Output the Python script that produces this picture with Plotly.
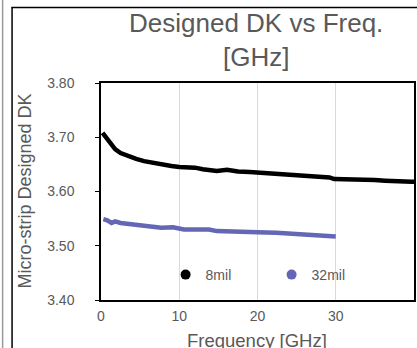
import plotly.graph_objects as go

# ---- data ----
freq_8mil = [0.2, 0.7, 1.2, 1.8, 2.5, 3.5, 4.5, 5.5, 6.5, 7.7, 9.0, 10.0, 11.0, 12.0,
             13.0, 14.0, 14.8, 16.1, 17.5, 19.0, 20.0, 21.5, 23.0, 24.5, 25.8, 27.5,
             29.2, 29.8, 31.5, 33.4, 35.0, 36.3, 38.0, 39.7, 41.0]
dk_8mil = [3.708, 3.698, 3.688, 3.678, 3.671, 3.665, 3.660, 3.656, 3.653, 3.650, 3.647,
           3.645, 3.645, 3.644, 3.641, 3.640, 3.638, 3.640, 3.637, 3.636, 3.635, 3.633,
           3.631, 3.631, 3.630, 3.628, 3.626, 3.623, 3.623, 3.623, 3.621, 3.620, 3.620,
           3.618, 3.617]

freq_32mil = [0.3, 0.8, 1.35, 1.8, 2.5, 3.5, 4.5, 5.6, 6.5, 7.7, 9.2, 10.6, 12.0, 13.8,
              14.8, 16.5, 18.2, 20.0, 22.4, 24.5, 26.7, 28.5, 30.0]
dk_32mil = [3.549, 3.547, 3.542, 3.545, 3.542, 3.540, 3.538, 3.537, 3.535, 3.533, 3.534,
            3.530, 3.530, 3.530, 3.527, 3.527, 3.527, 3.525, 3.524, 3.522, 3.520, 3.519,
            3.517]

series_names = ["8mil", "32mil"]
x_ticks = [0, 10, 20, 30, 40]
y_ticks = [3.40, 3.50, 3.60, 3.70, 3.80]
title_text = "Designed DK vs Freq.<br>[GHz]"
x_title = "Frequency [GHz]"
y_title = "Micro-strip Designed DK"

# ---- styling ----
W, H = 417, 348
L, R, T, B = 101, 1, 83, 48
FONT = "Liberation Sans, Arial, sans-serif"
GREY = "#595959"
BLACK_SERIES = "#000000"
BLUE_SERIES = "#6466b6"

def px_x(p):
    return (p - L) / (W - L - R)

def px_y(p):
    return (H - B - p) / (H - T - B)

fig = go.Figure()
for xs, ys, name, col in [(freq_8mil, dk_8mil, series_names[0], BLACK_SERIES),
                          (freq_32mil, dk_32mil, series_names[1], BLUE_SERIES)]:
    fig.add_trace(go.Scatter(x=xs, y=ys, mode="lines", name=name,
                             line=dict(color=col, width=4.5), showlegend=False))
    # legend entry (dot marker)
    fig.add_trace(go.Scatter(x=[None], y=[None], mode="markers", name=name,
                             marker=dict(color=col, size=10), showlegend=True))

fig.update_layout(
    width=W, height=H,
    margin=dict(l=L, r=R, t=T, b=B),
    paper_bgcolor="white", plot_bgcolor="white",
    font=dict(family=FONT, color=GREY, size=14),
    showlegend=True,
    legend=dict(orientation="h", x=px_x(166), xanchor="left",
                y=px_y(275), yanchor="middle",
                bgcolor="rgba(0,0,0,0)", font=dict(size=14, color=GREY),
                entrywidth=61, itemwidth=30),
    xaxis=dict(range=[0, 40], tickvals=x_ticks, ticktext=[str(v) for v in x_ticks],
               showgrid=True, gridcolor="#d9d9d9", gridwidth=1,
               showline=True, linecolor="black", linewidth=1.5, mirror=True,
               ticks="", zeroline=False, tickfont=dict(size=14, color=GREY),
               ticklabelstandoff=2),
    yaxis=dict(range=[3.40, 3.80], tickvals=y_ticks,
               ticktext=[f"{v:.2f}" for v in y_ticks],
               showgrid=False, zeroline=False,
               showline=True, linecolor="black", linewidth=1.5, mirror=True,
               ticks="outside", ticklen=4, tickcolor="black", tickwidth=1,
               tickfont=dict(size=14, color=GREY), ticklabelstandoff=18),
    annotations=[
        dict(text=title_text, x=px_x(257), y=px_y(40), xref="paper", yref="paper",
             xanchor="center", yanchor="middle", showarrow=False,
             font=dict(size=26, color=GREY, family=FONT)),
        dict(text=x_title, x=px_x(258), y=px_y(340), xref="paper", yref="paper",
             xanchor="center", yanchor="middle", showarrow=False,
             font=dict(size=18.5, color=GREY, family=FONT)),
        dict(text=y_title, x=px_x(25), y=px_y(191), xref="paper", yref="paper",
             xanchor="center", yanchor="middle", showarrow=False, textangle=-90,
             font=dict(size=18, color=GREY, family=FONT)),
    ],
    shapes=[
        # outer chart frame (left and top edges)
        dict(type="line", xref="paper", yref="paper", x0=px_x(11.5), x1=px_x(11.5),
             y0=px_y(7), y1=px_y(350), line=dict(color="black", width=1.5)),
        dict(type="line", xref="paper", yref="paper", x0=px_x(11), x1=px_x(420),
             y0=px_y(7.5), y1=px_y(7.5), line=dict(color="black", width=1.5)),
        # neighbouring frame edge at far left
        dict(type="line", xref="paper", yref="paper", x0=px_x(2), x1=px_x(2),
             y0=px_y(-2), y1=px_y(350), line=dict(color="#9a9a9a", width=1.5)),
    ],
)

fig.write_html("out.html", config={"displayModeBar": False},
               post_script="document.body.style.margin='0';document.body.style.overflow='hidden';")
